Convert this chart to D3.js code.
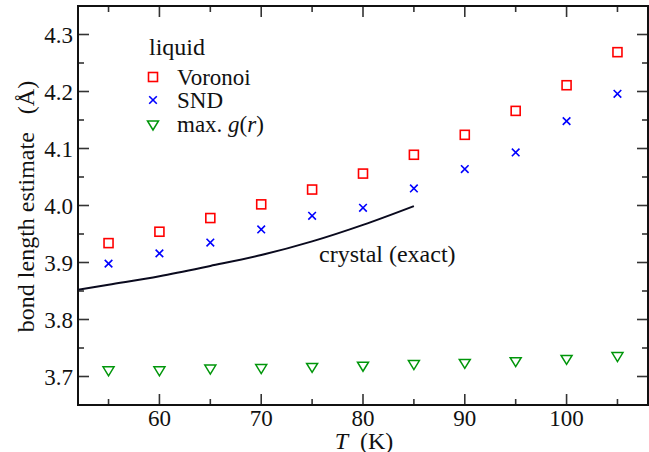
<!DOCTYPE html>
<html>
<head>
<meta charset="utf-8">
<script src="https://cdn.jsdelivr.net/npm/d3@7"></script>
<style>
  html, body { margin: 0; padding: 0; background: #fff; }
  svg { display: block; }
</style>
</head>
<body>
<svg id="chart" width="649" height="452"></svg>
<script>
// Temperatures (K) for the liquid estimates
const temps = [55, 60, 65, 70, 75, 80, 85, 90, 95, 100, 105];
// Bond length estimates (Å)
const voronoi = [3.934, 3.954, 3.978, 4.002, 4.028, 4.056, 4.089, 4.124, 4.166, 4.211, 4.269];
const snd     = [3.898, 3.916, 3.935, 3.958, 3.982, 3.996, 4.030, 4.064, 4.093, 4.148, 4.196];
const maxG    = [3.710, 3.710, 3.713, 3.714, 3.716, 3.718, 3.721, 3.723, 3.726, 3.730, 3.735];
// Crystal (exact) curve
const crystalT = [52, 55, 60, 65, 70, 75, 80, 85];
const crystalV = [3.852, 3.861, 3.876, 3.894, 3.913, 3.937, 3.966, 3.999];
// Axis ticks
const xMajor = [60, 70, 80, 90, 100];
const xMinor = [55, 65, 75, 85, 95, 105];
const yMajor = [3.7, 3.8, 3.9, 4.0, 4.1, 4.2, 4.3];
const yMinor = [3.75, 3.85, 3.95, 4.05, 4.15, 4.25];

const FONT = "\"Liberation Serif\", \"Times New Roman\", serif";
const svg = d3.select("#chart");
const L = 78, R = 648, T = 6, B = 405;

const x = d3.scaleLinear().domain([52, 108]).range([L, R]);
const y = d3.scaleLinear().domain([3.65, 4.35]).range([B, T]);

const plot = svg.append("g");
svg.append("clipPath").attr("id", "clip")
  .append("rect").attr("x", L).attr("y", T).attr("width", R - L).attr("height", B - T);

// Ticks pointing into the plot on all four sides
const majorLen = 11, minorLen = 6;
const tickStyle = s => s.attr("stroke", "#333").attr("stroke-width", 1.6);
function xTicks(vals, len) {
  vals.forEach(v => {
    tickStyle(plot.append("line").attr("x1", x(v)).attr("x2", x(v)).attr("y1", B).attr("y2", B - len));
    tickStyle(plot.append("line").attr("x1", x(v)).attr("x2", x(v)).attr("y1", T).attr("y2", T + len));
  });
}
function yTicks(vals, len) {
  vals.forEach(v => {
    tickStyle(plot.append("line").attr("y1", y(v)).attr("y2", y(v)).attr("x1", L).attr("x2", L + len));
    tickStyle(plot.append("line").attr("y1", y(v)).attr("y2", y(v)).attr("x1", R).attr("x2", R - len));
  });
}
xTicks(xMajor, majorLen); xTicks(xMinor, minorLen);
yTicks(yMajor, majorLen); yTicks(yMinor, minorLen);

// Frame
plot.append("rect").attr("x", L).attr("y", T).attr("width", R - L).attr("height", B - T)
  .attr("fill", "none").attr("stroke", "#111").attr("stroke-width", 2);

function label(sel, size) {
  return sel.append("text").style("font-family", FONT).attr("fill", "#111").attr("font-size", size || 24);
}

// Tick labels
xMajor.forEach(d => label(svg, 23).attr("x", x(d)).attr("y", 426).attr("text-anchor", "middle").text(d));
yMajor.forEach(d => label(svg, 23).attr("x", 73).attr("y", y(d) + 8).attr("text-anchor", "end").text(d.toFixed(1)));

// Axis titles
const xt = label(svg).attr("x", 364).attr("y", 449).attr("text-anchor", "middle");
xt.append("tspan").attr("font-style", "italic").text("T");
xt.append("tspan").text("\u2002(K)");
label(svg).attr("transform", `translate(34,${(T + B) / 2 + 1}) rotate(-90)`)
  .attr("text-anchor", "middle").text("bond length estimate \u2002(Å)");

// Crystal curve
const g = svg.append("g").attr("clip-path", "url(#clip)");
g.append("path")
  .datum(crystalT.map((t, i) => [t, crystalV[i]]))
  .attr("d", d3.line().x(d => x(d[0])).y(d => y(d[1])).curve(d3.curveMonotoneX))
  .attr("fill", "none").attr("stroke", "#0a0a1e").attr("stroke-width", 2);
label(svg).attr("x", 319).attr("y", 262).text("crystal (exact)");

// Marker shapes
const red = "#ff0000", blue = "#0000ff", green = "#00960a";
function square(sel, cx, cy) {
  sel.append("rect").attr("x", cx - 4.5).attr("y", cy - 4.5).attr("width", 9).attr("height", 9)
    .attr("fill", "none").attr("stroke", red).attr("stroke-width", 1.6);
}
function cross(sel, cx, cy) {
  const s = 3.8;
  sel.append("path").attr("d", `M${cx - s},${cy - s}L${cx + s},${cy + s}M${cx - s},${cy + s}L${cx + s},${cy - s}`)
    .attr("stroke", blue).attr("stroke-width", 1.6).attr("fill", "none");
}
function triangle(sel, cx, cy) {
  sel.append("path").attr("d", `M${cx - 5.5},${cy - 4}L${cx + 5.5},${cy - 4}L${cx},${cy + 5}Z`)
    .attr("stroke", green).attr("stroke-width", 1.5).attr("fill", "none");
}

const pts = svg.append("g");
temps.forEach((t, i) => {
  square(pts, x(t), y(voronoi[i]));
  cross(pts, x(t), y(snd[i]));
  triangle(pts, x(t), y(maxG[i]));
});

// Legend
const leg = svg.append("g");
label(leg).attr("x", 149).attr("y", 55).text("liquid");
square(leg, 153, 77);
label(leg, 23).attr("x", 177).attr("y", 85).text("Voronoi");
cross(leg, 153, 100);
label(leg, 23).attr("x", 177).attr("y", 108).text("SND");
triangle(leg, 153, 125);
const lg = label(leg, 23).attr("x", 177).attr("y", 132);
lg.append("tspan").text("max. ");
lg.append("tspan").attr("font-style", "italic").text("g");
lg.append("tspan").text("(");
lg.append("tspan").attr("font-style", "italic").text("r");
lg.append("tspan").text(")");
</script>
</body>
</html>
